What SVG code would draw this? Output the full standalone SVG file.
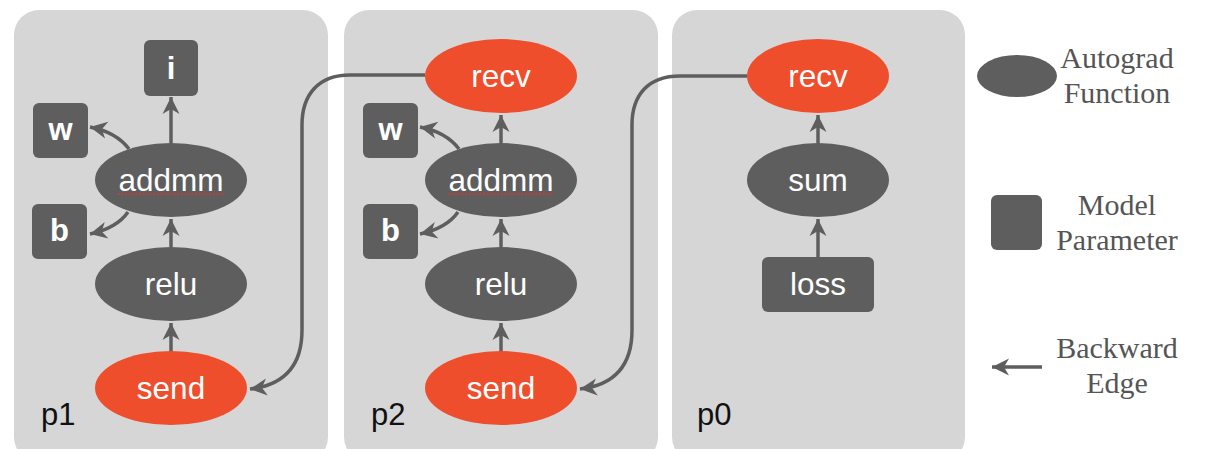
<svg xmlns="http://www.w3.org/2000/svg" width="1221" height="449" viewBox="0 0 1221 449">
<style>
.panel{fill:#d6d6d6}
.fn{fill:#5e5e5e}
.io{fill:#ee4e2b}
.prm{fill:#5e5e5e}
.t{font-family:"Liberation Sans",Arial,sans-serif;font-size:31.5px;fill:#fff;text-anchor:middle}
.tb{font-family:"Liberation Sans",Arial,sans-serif;font-size:31px;font-weight:bold;fill:#fff;text-anchor:middle}
.lbl{font-family:"Liberation Sans",Arial,sans-serif;font-size:31px;fill:#111}
.lg{font-family:"Liberation Serif","Times New Roman",serif;font-size:30px;fill:#555;text-anchor:middle}
.e{fill:none;stroke:#5e5e5e;stroke-width:3.5;marker-end:url(#ah)}
.sq{stroke:#e8322b;stroke-width:1.6;stroke-dasharray:2 1.5;fill:none}
</style>
<defs>
<marker id="ah" viewBox="-19 -10 20 20" refX="0" refY="0" markerWidth="20" markerHeight="20" markerUnits="userSpaceOnUse" orient="auto">
<path d="M0,0 L-17,-8.5 L-12,0 L-17,8.5 Z" fill="#5e5e5e"/>
</marker>
</defs>
<rect width="1221" height="449" fill="#fff"/>
<g id="panel-p1"><rect class="panel" x="14" y="10" width="314" height="452" rx="25"/><text class="lbl" x="41" y="425">p1</text></g>
<g id="panel-p2"><rect class="panel" x="344" y="10" width="314" height="452" rx="25"/><text class="lbl" x="371" y="425">p2</text></g>
<g id="panel-p0"><rect class="panel" x="672" y="10" width="293" height="452" rx="25"/><text class="lbl" x="697" y="425">p0</text></g>

<g id="connectors">
<path class="e" d="M171,143 L171,97"/>
<path class="e" d="M129,149 Q116,132 90,127"/>
<path class="e" d="M128,212 Q117,228 90,234"/>
<path class="e" d="M171,247 L171,219"/>
<path class="e" d="M171,352 L171,323"/>
<path class="e" d="M501,143 L501,115"/>
<path class="e" d="M459,149 Q446,132 420,127"/>
<path class="e" d="M458,212 Q447,228 420,234"/>
<path class="e" d="M501,247 L501,219"/>
<path class="e" d="M501,352 L501,323"/>
<path class="e" d="M818,143 L818,115"/>
<path class="e" d="M818,257 L818,219"/>
<path class="e" d="M425,75 L350,75 C318,75 302,95 302,125 L302,330 C302,365 285,385 250,389"/>
<path class="e" d="M747,76 L680,76 C648,76 632,95 632,125 L632,330 C632,365 615,385 580,389"/>
</g>

<g id="p1-i"><rect class="prm" x="144" y="40" width="54" height="56" rx="6"/><text class="tb" x="171" y="79">i</text></g>
<g id="p1-w"><rect class="prm" x="33" y="103" width="55" height="55" rx="6"/><text class="tb" x="60.5" y="140">w</text></g>
<g id="p1-b"><rect class="prm" x="32" y="204" width="55" height="55" rx="6"/><text class="tb" x="59.5" y="241">b</text></g>
<g id="p1-addmm"><ellipse class="fn" cx="171" cy="180" rx="76" ry="37"/><text class="t" x="171" y="191">addmm</text><path class="sq" d="M118,194 L224,194"/></g>
<g id="p1-relu"><ellipse class="fn" cx="171" cy="284" rx="76" ry="37"/><text class="t" x="171" y="295">relu</text></g>
<g id="p1-send"><ellipse class="io" cx="171" cy="388" rx="76" ry="37"/><text class="t" x="171" y="399">send</text></g>

<g id="p2-recv"><ellipse class="io" cx="501" cy="76" rx="76" ry="37"/><text class="t" x="501" y="87">recv</text></g>
<g id="p2-w"><rect class="prm" x="363" y="103" width="55" height="55" rx="6"/><text class="tb" x="390.5" y="140">w</text></g>
<g id="p2-b"><rect class="prm" x="363" y="204" width="55" height="55" rx="6"/><text class="tb" x="390.5" y="241">b</text></g>
<g id="p2-addmm"><ellipse class="fn" cx="501" cy="180" rx="76" ry="37"/><text class="t" x="501" y="191">addmm</text><path class="sq" d="M448,194 L554,194"/></g>
<g id="p2-relu"><ellipse class="fn" cx="501" cy="284" rx="76" ry="37"/><text class="t" x="501" y="295">relu</text></g>
<g id="p2-send"><ellipse class="io" cx="501" cy="388" rx="76" ry="37"/><text class="t" x="501" y="399">send</text></g>

<g id="p0-recv"><ellipse class="io" cx="818" cy="76" rx="71" ry="37"/><text class="t" x="818" y="87">recv</text></g>
<g id="p0-sum"><ellipse class="fn" cx="818" cy="180" rx="71" ry="37"/><text class="t" x="818" y="191">sum</text></g>
<g id="p0-loss"><rect class="prm" x="762" y="257" width="112" height="55" rx="6"/><text class="t" x="818" y="295">loss</text></g>

<g id="legend-fn"><ellipse class="fn" cx="1017" cy="76" rx="40" ry="21"/><text class="lg" x="1117" y="68">Autograd</text><text class="lg" x="1117" y="103">Function</text></g>
<g id="legend-param"><rect class="prm" x="991" y="195" width="51" height="55" rx="6"/><text class="lg" x="1117" y="215">Model</text><text class="lg" x="1117" y="250">Parameter</text></g>
<g id="legend-edge"><path class="e" d="M1042,367 L992,367"/><text class="lg" x="1117" y="358">Backward</text><text class="lg" x="1117" y="393">Edge</text></g>
</svg>
